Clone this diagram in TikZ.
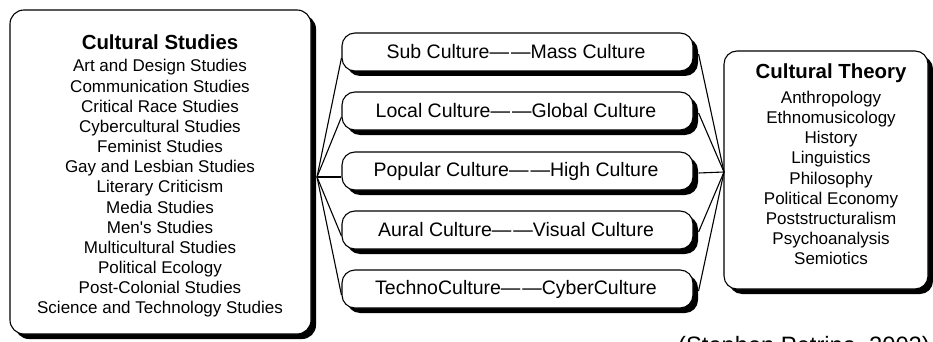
\documentclass[tikz,border=0pt]{standalone}
\usepackage{fontspec}
\setmainfont{Liberation Sans}
\usetikzlibrary{shadows}
\begin{document}
\begin{tikzpicture}[x=1pt,y=-1pt,
  shbox/.style={draw=black, line width=1.1pt, fill=white,
    drop shadow={shadow xshift=5pt, shadow yshift=-5pt, opacity=1, fill=black},
    inner sep=0pt},
  bigbox/.style={shbox, rounded corners=14pt},
  pairbox/.style={shbox, rounded corners=13pt, minimum width=351pt, minimum height=38pt},
  pairtext/.style={font=\fontsize{19.5}{22}\selectfont, inner sep=0pt},
  titletext/.style={font=\fontsize{20.4}{24}\selectfont\bfseries, inner sep=0pt},
  listtext/.style={font=\fontsize{17}{20.15}\selectfont, align=center, inner sep=0pt},
  conn/.style={line width=1.1pt}]
\clip (0,0) rectangle (933,342);
\useasboundingbox (0,0) rectangle (933,342);

% left box
\node[bigbox, minimum width=301pt, minimum height=324pt] (cs) at (160.5,172) {};
\node[titletext] (cst) at (160,42) {Cultural Studies};
\node[listtext] (csl) at (160,188.5) {Art and Design Studies\\Communication Studies\\Critical Race Studies\\Cybercultural Studies\\Feminist Studies\\Gay and Lesbian Studies\\Literary Criticism\\Media Studies\\Men\textquotesingle s Studies\\Multicultural Studies\\Political Ecology\\Post-Colonial Studies\\Science and Technology Studies};

% right box
\node[bigbox, rounded corners=13pt, minimum width=204pt, minimum height=238pt] (ct) at (826,170) {};
\node[titletext] (ctt) at (831,73) {Cultural Theory};
\node[listtext] (ctl) at (831,178) {Anthropology\\Ethnomusicology\\History\\Linguistics\\Philosophy\\Political Economy\\Poststructuralism\\Psychoanalysis\\Semiotics};

% middle boxes
\node[pairbox] (m1) at (517.5,52) {};
\node[pairbox] (m2) at (517.5,111) {};
\node[pairbox] (m3) at (517.5,171) {};
\node[pairbox] (m4) at (517.5,230) {};
\node[pairbox] (m5) at (517.5,289) {};
\node[pairtext] (t1) at (516,52) {Sub Culture—\kern2pt—Mass Culture};
\node[pairtext] (t2) at (516,111) {Local Culture—\kern2pt—Global Culture};
\node[pairtext] (t3) at (516,171) {Popular Culture—\kern2pt—High Culture};
\node[pairtext] (t4) at (516,230) {Aural Culture—\kern2pt—Visual Culture};
\node[pairtext] (t5) at (516,289) {TechnoCulture—\kern2pt—CyberCulture};

% convergence points
\coordinate (lc) at (317,177);
\coordinate (rc) at (724,172);

\foreach \m in {m1,m2,m3,m4,m5}{
  \draw[conn] (lc) -- ([yshift=-6pt]\m.west);
  \draw[conn] (rc) -- ([xshift=5pt,yshift=-2pt]\m.east);
}

% caption (cut off at the lower edge, as in the reference)
\node[anchor=base west, inner sep=0pt, font=\fontsize{23.7}{28}\selectfont] (cap) at (678,353) {(Stephen Petrina, 2002)};
\end{tikzpicture}
\end{document}
